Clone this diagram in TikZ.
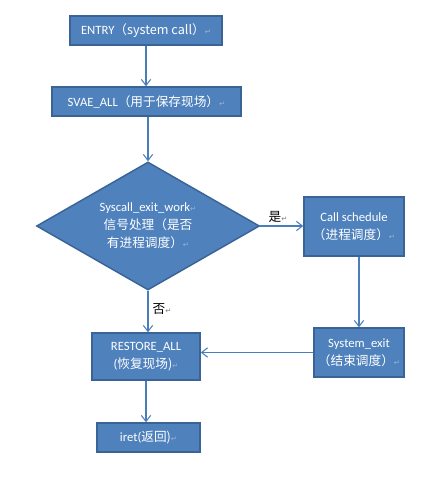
\documentclass[tikz,border=0pt]{standalone}
\usepackage{fontspec}
\setmainfont{Carlito}
\newfontfamily\cjk{Noto Sans CJK SC}
\newfontfamily\sym{DejaVu Sans}
\usepackage{xcolor}
\usepackage{tikz}
\usetikzlibrary{arrows.meta,shapes.geometric,positioning}
\definecolor{boxfill}{HTML}{4F81BD}
\definecolor{boxline}{HTML}{3A6496}
\definecolor{flowline}{HTML}{4A7EBB}
\definecolor{mark}{HTML}{9DB3D0}
\definecolor{markdark}{HTML}{808080}
\newcommand{\ret}{{\sym\fontsize{5.5pt}{6pt}\selectfont\textcolor{mark}{↵}}}
\newcommand{\retd}{{\sym\fontsize{5.5pt}{6pt}\selectfont\textcolor{markdark}{↵}}}
\tikzset{
  box/.style={draw=boxline, fill=boxfill, line width=1.1pt, text=white,
    font=\fontsize{9.5pt}{13.5pt}\selectfont, align=center, inner sep=0pt},
  decide/.style={diamond, draw=boxline, fill=boxfill, line width=1.1pt, text=white,
    font=\fontsize{9.5pt}{13.5pt}\selectfont, align=center, inner sep=0pt,
    aspect=1.74, minimum width=167.25pt, minimum height=96pt},
  flow/.style={draw=flowline, line width=0.8pt, -{Straight Barb[length=4.5pt,width=7pt]}},
  lab/.style={text=black, font=\fontsize{9.5pt}{11pt}\selectfont, inner sep=0pt},
}
\begin{document}
\begin{tikzpicture}[x=0.75pt,y=-0.75pt]
\useasboundingbox (0,0) rectangle (442,488);
\node[box, minimum width=114pt, minimum height=21.75pt] (entry) at (146,30.5)
  {ENTRY\cjk{（}system call\cjk{）}\ret};
\node[box, minimum width=141.75pt, minimum height=21.75pt] (save) at (146.5,101.5)
  {SVAE\_ALL\cjk{（用于保存现场）}\ret};
\node[decide] (dec) at (148,226)
  {Syscall\_exit\_work\ret\\ \cjk{信号处理（是否}\\ \cjk{有进程调度）}\ret};
\node[box, minimum width=75pt, minimum height=44.25pt] (call) at (354,226.5)
  {Call schedule\\ \cjk{（进程调度）}\ret};
\node[box, minimum width=67.5pt, minimum height=36.75pt] (sysexit) at (359,352.5)
  {System\_exit\\ \cjk{（结束调度）}\ret};
\node[box, minimum width=81pt, minimum height=35.25pt] (restore) at (146,356.5)
  {RESTORE\_ALL\\ (\cjk{恢复现场})\ret};
\node[box, minimum width=77.25pt, minimum height=21.75pt] (iret) at (148.5,437.5)
  {iret(\cjk{返回})\ret};
% connectors
\draw[flow] (entry.south) -- (entry.south |- save.north);
\draw[flow] (dec.north |- save.south) -- (dec.north);
\draw[flow] (dec.east) -- (dec.east -| call.west);
\draw[flow] (sysexit.north |- call.south) -- (sysexit.north);
\draw[flow] (sysexit.west) -- (sysexit.west -| restore.east);
\draw[flow] (dec.south) -- (dec.south |- restore.north);
\draw[flow] (restore.south) -- (restore.south |- iret.north);
% branch labels
\node[lab] (yes) at (278,217) {\cjk{是}\retd};
\node[lab] (no) at (162,309) {\cjk{否}\retd};
\end{tikzpicture}
\end{document}
